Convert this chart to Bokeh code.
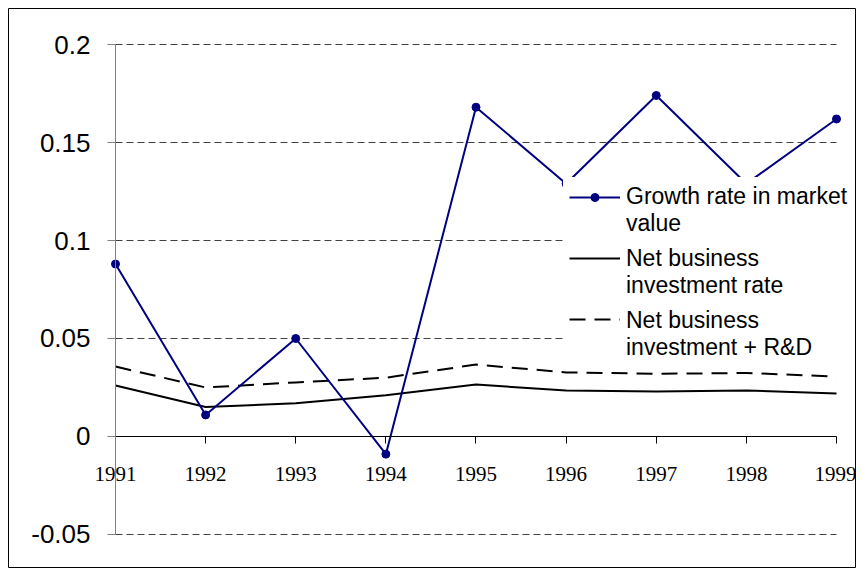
from bokeh.plotting import figure
from bokeh.models import FixedTicker, Legend, LegendItem, Range1d, LinearAxis
from bokeh.embed import file_html
from bokeh.resources import INLINE

years = [1991, 1992, 1993, 1994, 1995, 1996, 1997, 1998, 1999]
growth_market_value = [0.088, 0.011, 0.050, -0.009, 0.168, 0.129, 0.174, 0.129, 0.162]
net_business_investment = [0.026, 0.015, 0.017, 0.021, 0.0265, 0.0235, 0.023, 0.0235, 0.022]
net_investment_rd = [0.0357, 0.025, 0.0276, 0.030, 0.0367, 0.0327, 0.032, 0.0324, 0.0306]

series_labels = ["Growth rate in market\nvalue", "Net business\ninvestment rate",
                 "Net business\ninvestment + R&D"]

y_ticks = [-0.05, 0, 0.05, 0.1, 0.15, 0.2]
y_tick_labels = ["-0.05", "0", "0.05", "0.1", "0.15", "0.2"]
grid_levels = [-0.05, 0.05, 0.1, 0.15, 0.2]

p = figure(width=856, height=568, output_backend="svg", toolbar_location=None,
           x_range=Range1d(1989.8128, 1999.2108), y_range=Range1d(-0.06735, 0.21837),
           min_border_left=8, min_border_top=8, min_border_right=1, min_border_bottom=0,
           x_axis_type=None, y_axis_type=None)
p.outline_line_color = "black"
p.outline_line_width = 1
p.background_fill_color = "white"

# dashed gridlines
p.segment(x0=[years[0]] * len(grid_levels), x1=[years[-1]] * len(grid_levels),
          y0=grid_levels, y1=grid_levels, line_color="black", line_width=1,
          line_dash="7 4", line_alpha=0.75)

yaxis = LinearAxis(fixed_location=years[0], ticker=FixedTicker(ticks=y_ticks),
                   bounds=(y_ticks[0], y_ticks[-1]),
                   major_label_overrides=dict(zip(y_ticks, y_tick_labels)))
yaxis.axis_line_color = "#808080"
yaxis.major_tick_line_color = "#808080"
yaxis.major_tick_out = 8
yaxis.major_tick_in = 0
yaxis.minor_tick_out = 0
yaxis.minor_tick_in = 0
yaxis.major_label_standoff = 17
yaxis.major_label_text_font = "Liberation Sans"
yaxis.major_label_text_font_size = "26px"
yaxis.major_label_text_color = "black"
p.add_layout(yaxis, "left")

xaxis = LinearAxis(fixed_location=0, ticker=FixedTicker(ticks=years),
                   bounds=(years[0], years[-1]),
                   major_label_overrides={y: str(y) for y in years})
xaxis.axis_line_color = "black"
xaxis.major_tick_line_color = "black"
xaxis.major_tick_out = 7
xaxis.major_tick_in = 0
xaxis.minor_tick_out = 0
xaxis.minor_tick_in = 0
xaxis.major_label_standoff = 24
xaxis.major_label_text_font = "Liberation Serif"
xaxis.major_label_text_font_size = "21px"
xaxis.major_label_text_color = "black"
p.add_layout(xaxis, "below")

r_rd = p.line(years, net_investment_rd, line_color="black", line_width=2, line_dash="16 9")
r_inv = p.line(years, net_business_investment, line_color="black", line_width=2)
r_g = p.line(years, growth_market_value, line_color="#000080", line_width=2)
r_gm = p.scatter(years, growth_market_value, size=8, fill_color="#000080", line_color="#000080")

# legend text box (white background, glyphs hidden)
dummy = p.line(x=[], y=[], line_alpha=0)
legend_text = Legend(items=[LegendItem(label=s, renderers=[dummy]) for s in series_labels],
                     location=(555, 201))
legend_text.label_text_font = "Liberation Sans"
legend_text.label_text_font_size = "23px"
legend_text.label_text_color = "black"
legend_text.label_text_line_height = 1.15
legend_text.glyph_width = 51
legend_text.label_standoff = 6
legend_text.padding = 6
legend_text.spacing = 8
legend_text.margin = 0
legend_text.border_line_color = "white"
legend_text.border_line_alpha = 0
legend_text.background_fill_color = "white"
legend_text.background_fill_alpha = 1.0
p.add_layout(legend_text, "center")

# legend glyphs aligned with the first line of each label
legend_glyphs = Legend(items=[
    LegendItem(label=" ", renderers=[r_g, r_gm]),
    LegendItem(label=" ", renderers=[r_inv]),
    LegendItem(label=" ", renderers=[r_rd]),
], location=(561, 239))
legend_glyphs.label_text_font_size = "10px"
legend_glyphs.glyph_width = 51
legend_glyphs.glyph_height = 20
legend_glyphs.label_standoff = 0
legend_glyphs.padding = 0
legend_glyphs.spacing = 41
legend_glyphs.margin = 0
legend_glyphs.border_line_color = None
legend_glyphs.background_fill_alpha = 0
p.add_layout(legend_glyphs, "center")

open("out.html", "w").write(file_html(p, INLINE))
